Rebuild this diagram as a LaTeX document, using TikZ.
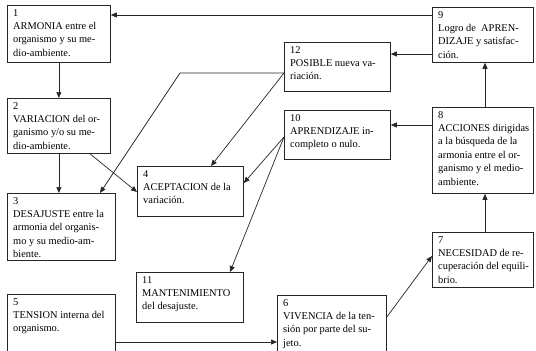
\documentclass[tikz,border=0pt]{standalone}
\usepackage{fontspec}
\setmainfont{Liberation Serif}
\usetikzlibrary{arrows.meta,calc}
\begin{document}
\begin{tikzpicture}[x=1pt,y=-1pt,
  boxs/.style={draw=black!85,line width=0.8pt,anchor=north west,inner sep=0pt,rectangle},
  txt/.style={anchor=north west,inner sep=0pt,align=left,font=\fontsize{10.4}{13.4}\selectfont},
  arr/.style={draw=black!85,line width=0.7pt,-{Triangle[length=6pt,width=5pt]}},
  ln/.style={draw=black!85,line width=0.7pt}]
\useasboundingbox (0,0) rectangle (536,351);
% boxes
\node[boxs,minimum width=103pt,minimum height=57pt] (b1) at (7,5) {};
\node[boxs,minimum width=103pt,minimum height=55pt] (b2) at (7,98) {};
\node[boxs,minimum width=108pt,minimum height=67pt] (b3) at (7,193) {};
\node[boxs,minimum width=108pt,minimum height=75pt] (b5) at (7,294) {};
\node[boxs,minimum width=106pt,minimum height=50pt] (b4) at (137,166) {};
\node[boxs,minimum width=107pt,minimum height=50pt] (b11) at (136,272) {};
\node[boxs,minimum width=109pt,minimum height=75pt] (b6) at (277,295) {};
\node[boxs,minimum width=106pt,minimum height=49pt] (b12) at (284,42) {};
\node[boxs,minimum width=106pt,minimum height=49pt] (b10) at (284,110) {};
\node[boxs,minimum width=101pt,minimum height=55pt] (b9) at (432,7) {};
\node[boxs,minimum width=101pt,minimum height=86pt] (b8) at (432,107) {};
\node[boxs,minimum width=101pt,minimum height=55pt] (b7) at (432,232) {};
% texts
\node[txt] (t1) at ($(b1.north west)+(6,4)$) {1\\ARMONIA entre el\\organismo y su me-\\dio-ambiente.};
\node[txt] (t2) at ($(b2.north west)+(6,4)$) {2\\VARIACION del or-\\ganismo y/o su me-\\dio-ambiente.};
\node[txt] (t3) at ($(b3.north west)+(6,4)$) {3\\DESAJUSTE entre la\\armonia del organis-\\mo y su medio-am-\\biente.};
\node[txt] (t5) at ($(b5.north west)+(6,4)$) {5\\TENSION interna del\\organismo.};
\node[txt] (t4) at ($(b4.north west)+(6,4)$) {4\\ACEPTACION de la\\variación.};
\node[txt] (t11) at ($(b11.north west)+(6,4)$) {11\\MANTENIMIENTO\\del desajuste.};
\node[txt] (t6) at ($(b6.north west)+(6,4)$) {6\\VIVENCIA de la ten-\\sión por parte del su-\\jeto.};
\node[txt] (t12) at ($(b12.north west)+(6,4)$) {12\\POSIBLE nueva va-\\riación.};
\node[txt] (t10) at ($(b10.north west)+(6,4)$) {10\\APRENDIZAJE in-\\completo o nulo.};
\node[txt] (t9) at ($(b9.north west)+(6,4)$) {9\\Logro de\ \ APREN-\\DIZAJE y satisfac-\\ción.};
\node[txt] (t8) at ($(b8.north west)+(6,4)$) {8\\ACCIONES dirigidas\\a la búsqueda de la\\armonia entre el or-\\ganismo y el medio-\\ambiente.};
\node[txt] (t7) at ($(b7.north west)+(6,4)$) {7\\NECESIDAD de re-\\cuperación del equili-\\brio.};
% connectors
\coordinate (p9a) at ($(b9.north west)+(0,8)$);
\draw[arr] (p9a) -- (b1.east |- p9a);
\draw[arr] (b1.south) -- (b2.north);
\draw[arr] (b2.south) -- (b2.south |- b3.north);
\draw[arr] ($(b2.south west)+(83,0)$) -- ($(b4.north west)+(0,26)$);
\coordinate (p12) at ($(b12.north west)+(0,31)$);
\draw[arr] (p12) -- ++(-104,0) -- ($(b3.north west)+(93,0)$);
\draw[arr] (p12) -- ($(b4.north west)+(74,0)$);
\coordinate (p10) at ($(b10.north west)+(0,27)$);
\draw[arr] (p10) -- ($(b4.north east)+(0,17)$);
\draw[arr] (p10) -- ($(b11.north west)+(94,0)$);
\coordinate (p5) at ($(b5.north east)+(0,48)$);
\draw[arr] (p5) -- (b6.west |- p5);
\draw[arr] ($(b6.north east)+(0,22)$) -- ($(b7.north west)+(0,24)$);
\draw[arr] ($(b7.north west)+(53,0)$) -- ($(b8.south west)+(53,0)$);
\draw[arr] ($(b8.north west)+(53,0)$) -- ($(b9.south west)+(53,0)$);
\coordinate (p8) at ($(b8.north west)+(0,18)$);
\draw[arr] (p8) -- (b10.east |- p8);
\coordinate (p9b) at ($(b9.north west)+(0,47)$);
\draw[arr] (p9b) -- (b12.east |- p9b);
\end{tikzpicture}
\end{document}
